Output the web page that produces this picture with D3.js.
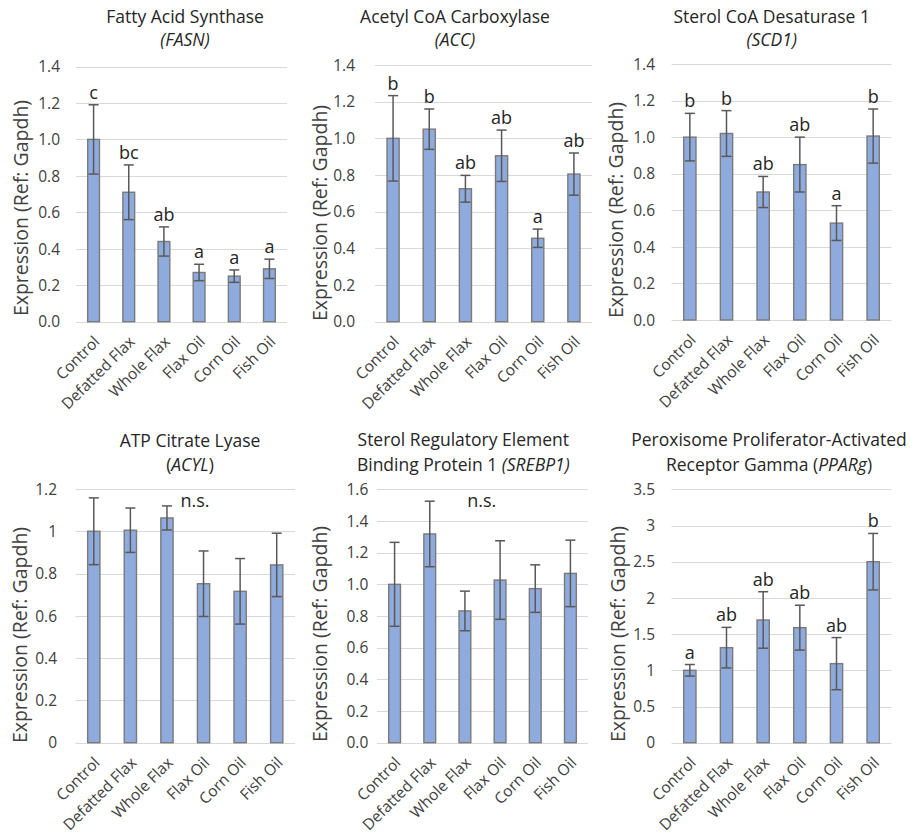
<!DOCTYPE html>
<html><head><meta charset="utf-8">
<script src="https://cdn.jsdelivr.net/npm/d3@7"></script>
<style>body{margin:0;background:#fff}</style>
</head><body>
<svg id="c" width="917" height="834"></svg>
<script>
// ---------- data ----------
const categories = ["Control", "Defatted Flax", "Whole Flax", "Flax Oil", "Corn Oil", "Fish Oil"];

const fasnMean = [1.00, 0.71, 0.44, 0.27, 0.25, 0.29];
const fasnErr = [0.19, 0.15, 0.08, 0.045, 0.034, 0.053];
const fasnLetters = ["c", "bc", "ab", "a", "a", "a"];

const accMean = [1.00, 1.05, 0.725, 0.905, 0.455, 0.805];
const accErr = [0.233, 0.11, 0.073, 0.14, 0.05, 0.115];
const accLetters = ["b", "b", "ab", "ab", "a", "ab"];

const scd1Mean = [1.00, 1.02, 0.70, 0.85, 0.53, 1.006];
const scd1Err = [0.13, 0.125, 0.085, 0.15, 0.095, 0.148];
const scd1Letters = ["b", "b", "ab", "ab", "a", "b"];

const acylMean = [1.00, 1.005, 1.063, 0.752, 0.716, 0.841];
const acylErr = [0.158, 0.105, 0.057, 0.155, 0.155, 0.15];

const srebp1Mean = [1.00, 1.318, 0.832, 1.027, 0.973, 1.069];
const srebp1Err = [0.265, 0.207, 0.125, 0.248, 0.15, 0.21];

const ppargMean = [1.00, 1.313, 1.695, 1.589, 1.092, 2.50];
const ppargErr = [0.08, 0.28, 0.39, 0.31, 0.36, 0.39];
const ppargLetters = ["a", "ab", "ab", "ab", "ab", "b"];

const yTicks1_4 = [0, 0.2, 0.4, 0.6, 0.8, 1.0, 1.2, 1.4];
const yTicks1_2 = [0, 0.2, 0.4, 0.6, 0.8, 1.0, 1.2];
const yTicks1_6 = [0, 0.2, 0.4, 0.6, 0.8, 1.0, 1.2, 1.4, 1.6];
const yTicks3_5 = [0, 0.5, 1, 1.5, 2, 2.5, 3, 3.5];

const yAxisTitle = "Expression (Ref: Gapdh)";

// ---------- layout ----------
const FONT = "'Open Sans', 'Noto Sans', sans-serif";
const panels = [
  { mean: fasnMean, err: fasnErr, letters: fasnLetters, ticks: yTicks1_4, fmt: d3.format(".1f"),
    x0: 76, x1: 287, yTop: 66.5, yZero: 321.7, tickRight: 60, ytx: 27.5, yty: 208,
    tcx: 185, tl1: 22.7, tl2: 45.5,
    title: [[["Fatty Acid Synthase", false]], [["(FASN)", true]]] },
  { mean: accMean, err: accErr, letters: accLetters, ticks: yTicks1_4, fmt: d3.format(".1f"),
    x0: 375, x1: 592, yTop: 65, yZero: 321.7, tickRight: 355, ytx: 326.7, yty: 213,
    tcx: 455, tl1: 23, tl2: 45.5,
    title: [[["Acetyl CoA Carboxylase", false]], [["(ACC)", true]]] },
  { mean: scd1Mean, err: scd1Err, letters: scd1Letters, ticks: yTicks1_4, fmt: d3.format(".1f"),
    x0: 671.5, x1: 891.5, yTop: 64, yZero: 320, tickRight: 655, ytx: 623.3, yty: 210,
    tcx: 771.7, tl1: 23, tl2: 45.5,
    title: [[["Sterol CoA Desaturase 1", false]], [["(SCD1)", true]]] },
  { mean: acylMean, err: acylErr, letters: null, ns: [195, 507], ticks: yTicks1_2, fmt: d3.format("~g"),
    x0: 75.5, x1: 295, yTop: 489, yZero: 742.7, tickRight: 57, ytx: 26.7, yty: 635,
    tcx: 190, tl1: 446.5, tl2: 470.5,
    title: [[["ATP Citrate Lyase", false]], [["(", false], ["ACYL", true], [")", false]]] },
  { mean: srebp1Mean, err: srebp1Err, letters: null, ns: [481.7, 507], ticks: yTicks1_6, fmt: d3.format(".1f"),
    x0: 377, x1: 588, yTop: 489.3, yZero: 742.7, tickRight: 368.3, ytx: 326.7, yty: 634,
    tcx: 463.3, tl1: 445.5, tl2: 470.5,
    title: [[["Sterol Regulatory Element", false]], [["Binding Protein 1 ", false], ["(SREBP1)", true]]] },
  { mean: ppargMean, err: ppargErr, letters: ppargLetters, ticks: yTicks3_5, fmt: d3.format("~g"),
    x0: 671.5, x1: 891.5, yTop: 489.3, yZero: 742.7, tickRight: 655, ytx: 625, yty: 634,
    tcx: 769, tl1: 446, tl2: 471,
    title: [[["Peroxisome Proliferator-Activated", false]], [["Receptor Gamma (", false], ["PPARg", true], [")", false]]] }
];

const svg = d3.select("#c").style("font-family", FONT);

panels.forEach(p => {
  const g = svg.append("g");
  const ymax = p.ticks[p.ticks.length - 1];
  const x = d3.scaleBand().domain(categories).range([p.x0, p.x1]);
  const y = d3.scaleLinear().domain([0, ymax]).range([p.yZero, p.yTop]);
  const bw = x.bandwidth() * 0.335;
  const cx = c => x(c) + x.bandwidth() / 2;

  // gridlines
  g.append("g").selectAll("line").data(p.ticks).join("line")
    .attr("x1", p.x0).attr("x2", p.x1)
    .attr("y1", d => Math.round(y(d)) + 0.5).attr("y2", d => Math.round(y(d)) + 0.5)
    .attr("stroke", "#d9d9d9").attr("stroke-width", 1);

  // y axis labels
  const ya = g.append("g").attr("transform", `translate(${p.tickRight},0)`)
    .call(d3.axisLeft(y).tickValues(p.ticks).tickFormat(p.fmt).tickSize(0).tickPadding(0));
  ya.select(".domain").remove();
  ya.selectAll("text").attr("font-size", 15.5).attr("fill", "#404040").attr("font-family", FONT).attr("dy", "0.34em");

  // x axis labels
  const xa = g.append("g").attr("transform", `translate(0,${p.yZero})`)
    .call(d3.axisBottom(x).tickSize(0));
  xa.select(".domain").remove();
  xa.selectAll("text")
    .attr("x", 0).attr("y", 0).attr("dy", 0)
    .attr("text-anchor", "end")
    .attr("transform", "translate(7,21) rotate(-45)")
    .attr("font-size", 15.5).attr("fill", "#404040").attr("font-family", FONT);

  // bars
  g.append("g").selectAll("rect").data(categories).join("rect")
    .attr("x", c => cx(c) - bw / 2)
    .attr("y", (c, i) => y(p.mean[i]))
    .attr("width", bw)
    .attr("height", (c, i) => p.yZero - y(p.mean[i]))
    .attr("fill", "#8faadc").attr("stroke", "#7a7a7a").attr("stroke-width", 1.4);

  // error bars
  const eb = g.append("g").attr("stroke", "#595959").attr("stroke-width", 1.5);
  categories.forEach((c, i) => {
    const xc = cx(c), hi = y(p.mean[i] + p.err[i]), lo = y(p.mean[i] - p.err[i]);
    eb.append("line").attr("x1", xc).attr("x2", xc).attr("y1", hi).attr("y2", lo);
    eb.append("line").attr("x1", xc - 5).attr("x2", xc + 5).attr("y1", hi).attr("y2", hi);
    eb.append("line").attr("x1", xc - 5).attr("x2", xc + 5).attr("y1", lo).attr("y2", lo);
  });

  // significance letters
  if (p.letters) {
    g.append("g").selectAll("text").data(categories).join("text")
      .attr("x", c => cx(c))
      .attr("y", (c, i) => y(p.mean[i] + p.err[i]) - 6)
      .attr("text-anchor", "middle").attr("font-size", 18).attr("fill", "#262626")
      .text((c, i) => p.letters[i]);
  }
  if (p.ns) {
    g.append("text").attr("x", p.ns[0]).attr("y", p.ns[1]).attr("text-anchor", "middle")
      .attr("font-size", 18).attr("fill", "#262626").text("n.s.");
  }

  // y axis title
  g.append("text").attr("transform", `translate(${p.ytx},${p.yty}) rotate(-90)`)
    .attr("text-anchor", "middle").attr("font-size", 19.5).attr("fill", "#404040")
    .text(yAxisTitle);

  // chart title
  [p.tl1, p.tl2].forEach((ty, li) => {
    const t = g.append("text").attr("x", p.tcx).attr("y", ty).attr("text-anchor", "middle")
      .attr("font-size", 17.5).attr("fill", "#262626");
    p.title[li].forEach(([s, it]) => t.append("tspan").attr("font-style", it ? "italic" : "normal").text(s));
  });
});
</script>
</body></html>
